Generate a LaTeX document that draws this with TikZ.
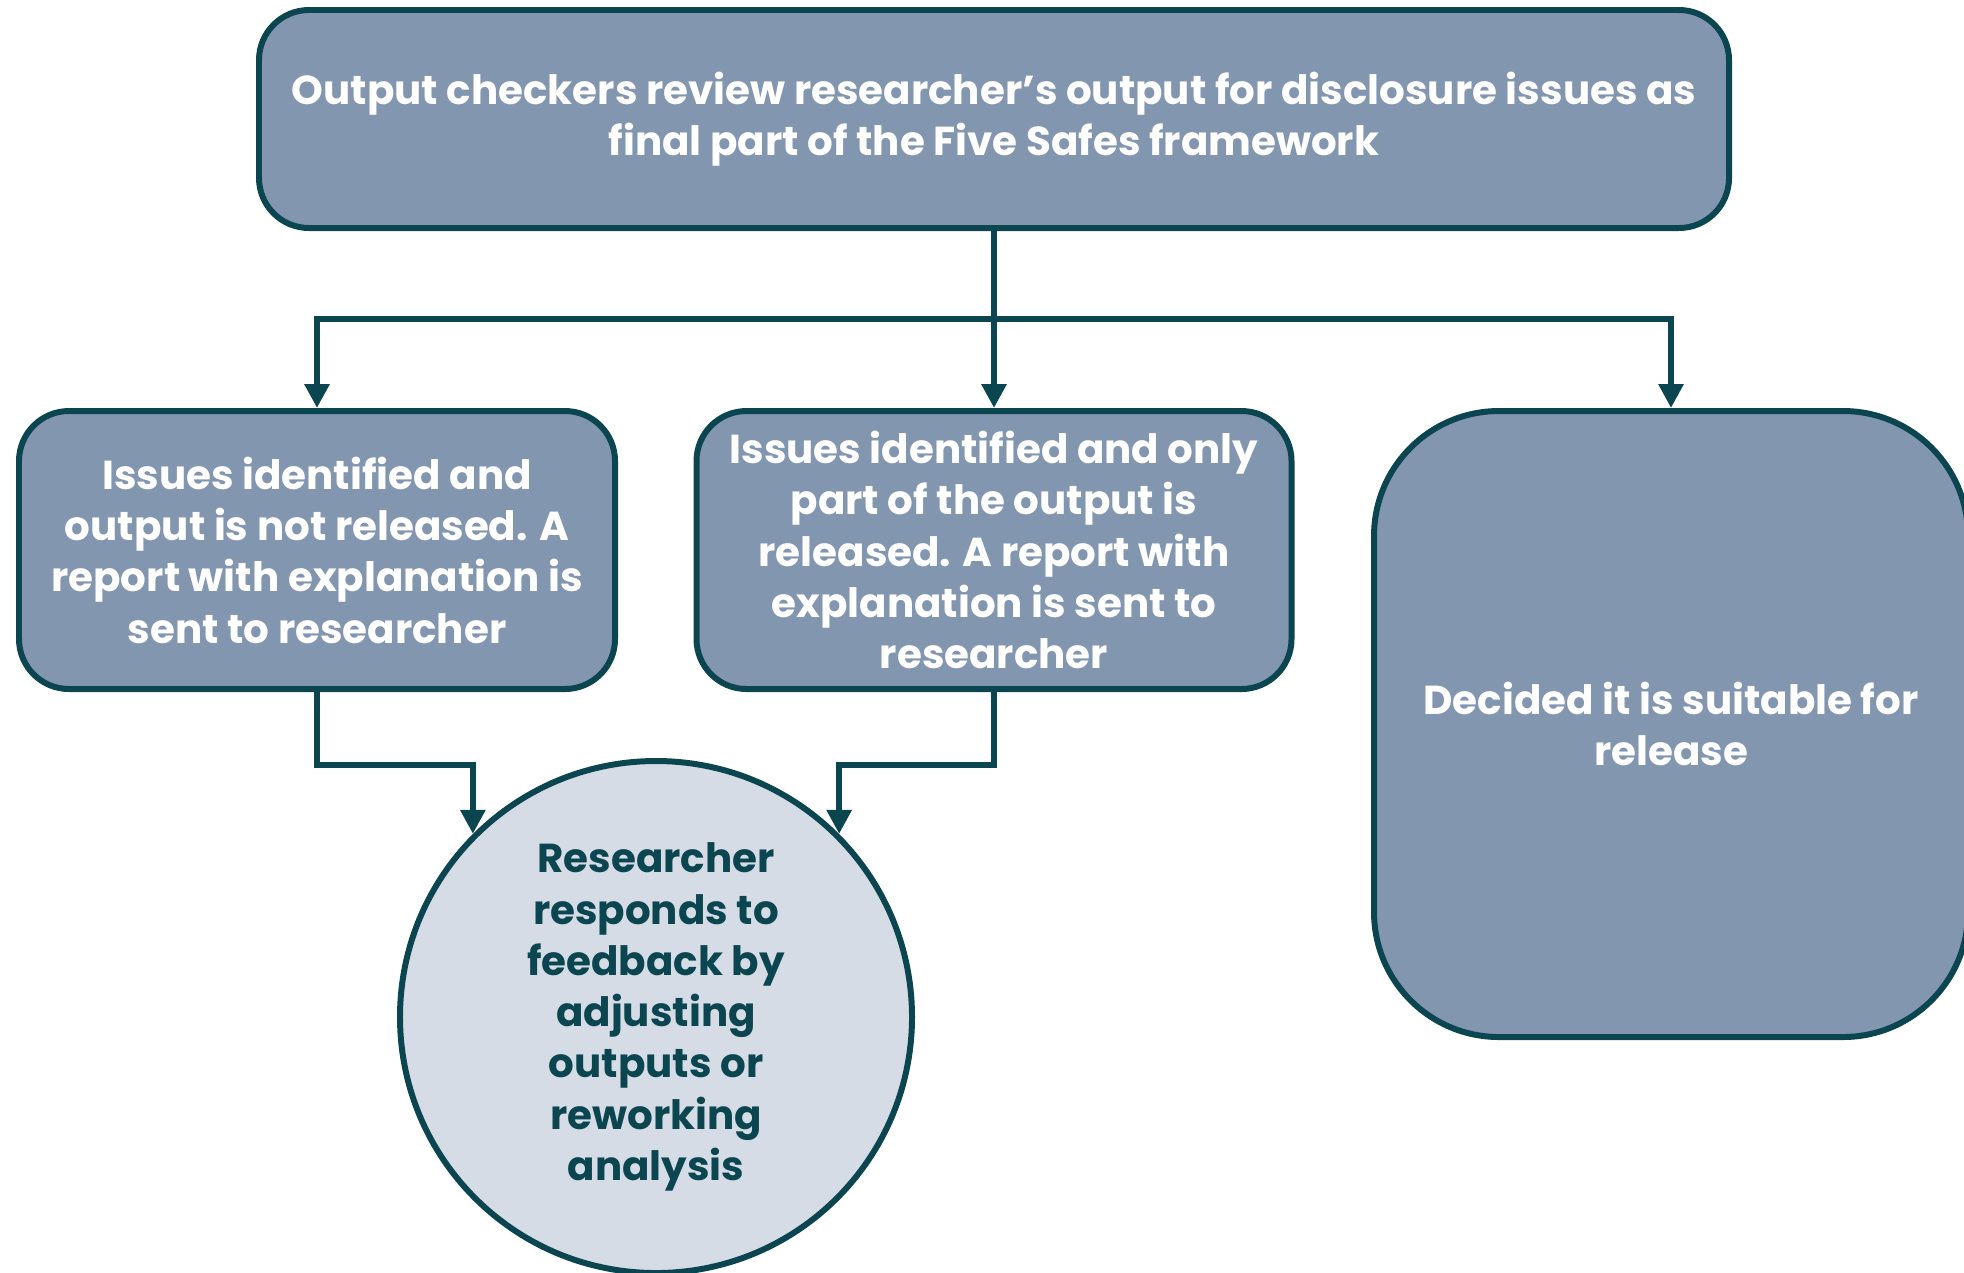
\documentclass[tikz,border=0pt]{standalone}
\usepackage{fontspec}
\setmainfont{Poppins}
\usetikzlibrary{arrows.meta}
\definecolor{edgeteal}{HTML}{0B4550}
\definecolor{boxblue}{HTML}{8396AF}
\definecolor{circfill}{HTML}{D5DCE5}
\tikzset{
	box/.style={draw=edgeteal, line width=1.7pt, fill=boxblue, rounded corners=0.5cm, text=white, align=center, inner sep=0pt, font=\bfseries\fontsize{11.5}{14.6}\selectfont},
	flow/.style={draw=edgeteal, line width=1.7pt, -{Triangle[width=0.24cm,length=0.24cm]}},
}
\begin{document}
\begin{tikzpicture}
	\useasboundingbox (0,0) rectangle (19.64,-12.72);
	\node[box, minimum width=14.7cm, minimum height=2.18cm] (check) at (9.94,-1.19) {Output checkers review researcher’s output for disclosure issues as\\final part of the Five Safes framework};
	\node[box, minimum width=5.96cm, minimum height=2.78cm] (notrel) at (3.17,-5.5) {Issues identified and\\output is not released. A\\report with explanation is\\sent to researcher};
	\node[box, minimum width=5.95cm, minimum height=2.78cm] (partrel) at (9.94,-5.5) {Issues identified and only\\part of the output is\\released. A report with\\explanation is sent to\\researcher};
	\node[box, minimum width=5.94cm, minimum height=6.26cm, rounded corners=1.25cm] (suitable) at (16.71,-7.24) {Decided it is suitable for\\release};
	\node[box, circle, fill=circfill, text=edgeteal, minimum size=5.12cm] (respond) at (6.56,-10.17) {Researcher\\responds to\\feedback by\\adjusting\\outputs or\\reworking\\analysis};
	% split point under the top box
	\coordinate (split) at (9.94,-3.19);
	\draw[flow] (check.south) -- (split) -| (notrel.north);
	\draw[flow] (split) -- (partrel.north);
	\draw[flow] (split) -| (suitable.north);
	\draw[flow] (notrel.south) -- ++(0,-0.73) -| (respond.north west);
	\draw[flow] (partrel.south) -- ++(0,-0.73) -| (respond.north east);
\end{tikzpicture}
\end{document}
